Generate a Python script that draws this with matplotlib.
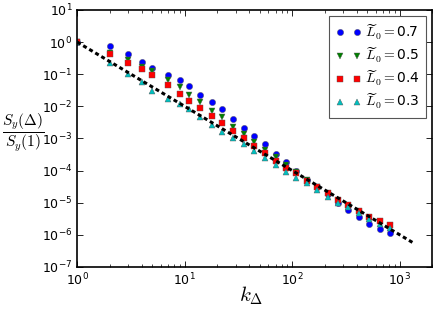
import matplotlib
matplotlib.use("Agg")
import matplotlib.pyplot as plt

k = [1, 2, 3, 4, 5, 7, 9, 11, 14, 18, 22, 28, 36, 44, 56, 70, 87, 109, 136, 170,
     213, 266, 332, 415, 519, 649, 811]
s07 = [1, 0.77, 0.42, 0.24, 0.16, 0.097, 0.066, 0.044, 0.023, 0.0138, 0.0083, 0.0040,
       0.0021, 0.00117, 0.00068, 0.00032, 0.00018, 0.0001, 5.0e-5, 3.1e-5, 1.9e-5,
       1.0e-5, 6.0e-6, 3.5e-6, 2.24e-6, 1.5e-6, 1.17e-6]
s05 = [1, 0.45, 0.27, 0.17, 0.13, 0.066, 0.039, 0.023, 0.014, 0.0072, 0.0045, 0.0023,
       0.00135, 0.00076, 0.00044, 0.00026, 0.00015, 9e-5, 5e-5, 3.0e-5, 1.85e-5,
       1.15e-5, 8e-6, 5.2e-6, 3.4e-6, 2.5e-6, 1.9e-6]
s04 = [1, 0.44, 0.22, 0.145, 0.097, 0.045, 0.024, 0.015, 0.0087, 0.005, 0.0030, 0.0017,
       0.001, 0.00057, 0.00035, 0.0002, 0.000123, 8.2e-5, 4.8e-5, 3.2e-5, 1.95e-5,
       1.2e-5, 8.5e-6, 5.5e-6, 3.6e-6, 2.75e-6, 2.1e-6]
s03 = [1, 0.23, 0.10, 0.059, 0.030, 0.0166, 0.0115, 0.0082, 0.0047, 0.0026, 0.0016,
       0.00107, 0.00068, 0.00041, 0.00025, 0.000148, 9.1e-5, 6.0e-5, 4.0e-5, 2.5e-5,
       1.5e-5, 1.0e-5, 7.4e-6, 4.9e-6, 3.2e-6, 2.2e-6, 1.65e-6]
fit_x = [1, 1343]
fit_y = [1, 5.57e-7]
labels = ["0.7", "0.5", "0.4", "0.3"]

fig = plt.figure(figsize=(4.36, 3.11), dpi=100)
ax = fig.add_axes([0.177, 0.1415, 0.814, 0.8265])

styles = [("o", (0, 0, 1)), ("v", (0, 0.5, 0)), ("s", (1, 0, 0)), ("^", (0, 0.75, 0.75))]
for ser, lab, (m, c) in zip([s07, s05, s04, s03], labels, styles):
    ax.plot(k, ser, linestyle="none", marker=m, color=c, markersize=4.5,
            markeredgecolor="#555555", markeredgewidth=0.3,
            label=r"$\widetilde{L}_0=$" + lab)

ax.plot(fit_x, fit_y, color="k", linewidth=2.2, linestyle=(0, (1.3, 1.0)), zorder=5)

ax.set_xscale("log")
ax.set_yscale("log")
ax.set_xlim(1, 2000)
ax.set_ylim(1e-7, 10)

for sp in ax.spines.values():
    sp.set_linewidth(1.2)
ax.tick_params(which="both", direction="in", top=True, right=True, labelsize=9)
ax.tick_params(which="major", length=4, width=0.6)
ax.tick_params(which="minor", length=2, width=0.5)
ax.yaxis.set_minor_locator(matplotlib.ticker.NullLocator())
ax.yaxis.set_major_locator(matplotlib.ticker.LogLocator(base=10, numticks=20))

ax.set_xlabel(r"$k_\Delta$", fontsize=15, math_fontfamily="cm", va="center")
ax.xaxis.set_label_coords(0.49, -0.11)
ax.set_ylabel(r"$\dfrac{S_y(\Delta)}{S_y(1)}$", fontsize=11, math_fontfamily="cm",
              rotation=0, va="center", ha="center")
ax.yaxis.set_label_coords(-0.152, 0.525)

leg = ax.legend(loc="upper right", numpoints=2, fontsize=10, fancybox=False,
                framealpha=1, edgecolor="#555555", borderpad=0.45, labelspacing=0.3,
                handletextpad=0.3, handlelength=1.8, borderaxespad=0.45)
for t in leg.get_texts():
    t.set_math_fontfamily("cm")
leg.get_frame().set_linewidth(0.8)

fig.savefig("out.png", dpi=100)
